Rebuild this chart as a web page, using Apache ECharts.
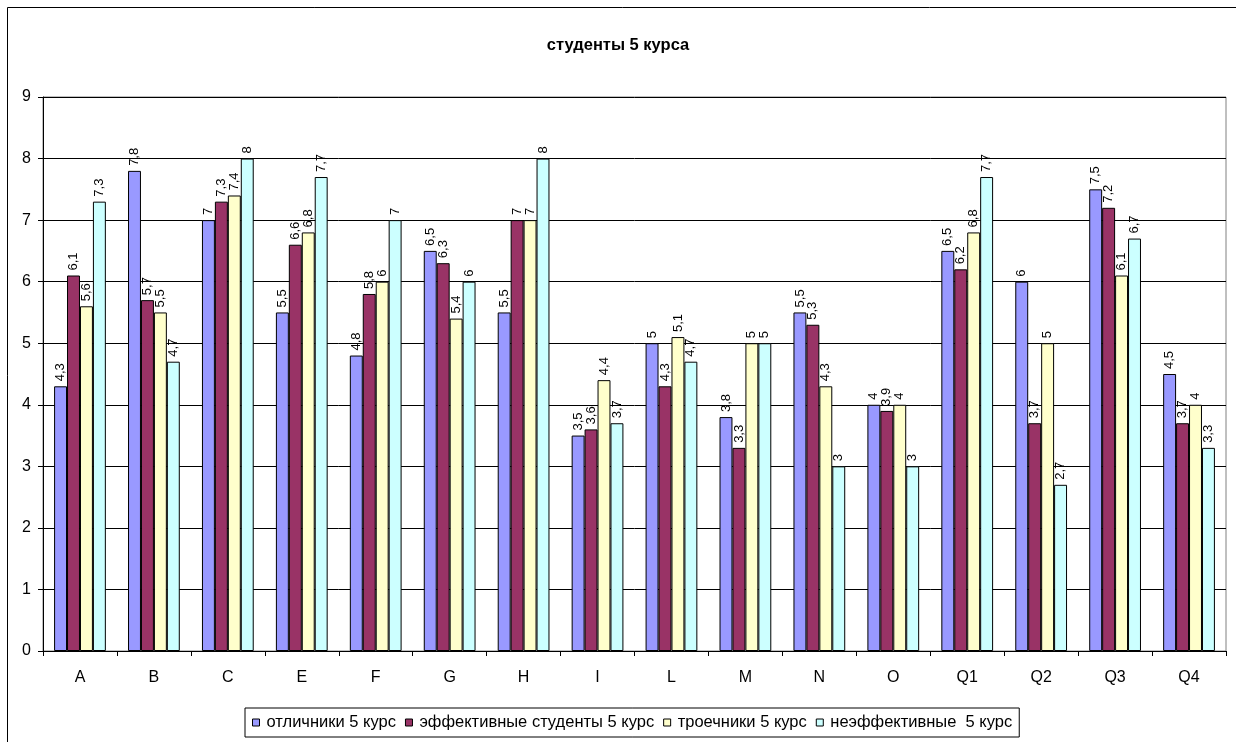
<!DOCTYPE html>
<html><head><meta charset="utf-8">
<script src="https://cdn.jsdelivr.net/npm/echarts@6/dist/echarts.min.js"></script>
<style>html,body{margin:0;padding:0;background:#fff;}#c{width:1236px;height:742px;}</style>
</head><body><div id="c"></div>
<script>
const categories = ['A','B','C','E','F','G','H','I','L','M','N','O','Q1','Q2','Q3','Q4'];
const seriesNames = ['отличники 5 курс','эффективные студенты 5 курс','троечники 5 курс','неэффективные  5 курс'];
const excellent = [4.3,7.8,7,5.5,4.8,6.5,5.5,3.5,5,3.8,5.5,4,6.5,6,7.5,4.5];
const effective = [6.1,5.7,7.3,6.6,5.8,6.3,7,3.6,4.3,3.3,5.3,3.9,6.2,3.7,7.2,3.7];
const cStudents = [5.6,5.5,7.4,6.8,6,5.4,7,4.4,5.1,5,4.3,4,6.8,5,6.1,4];
const ineffective = [7.3,4.7,8,7.7,7,6,8,3.7,4.7,5,3,3,7.7,2.7,6.7,3.3];
const yTicks = [0,1,2,3,4,5,6,7,8,9];
const colors = ['#9999FF','#993366','#FFFFCC','#CCFFFF'];
const values = [excellent, effective, cStudents, ineffective];
const font = 'Liberation Sans, Arial, sans-serif';
const chart = echarts.init(document.getElementById('c'));
chart.setOption({
  animation:false,
  textStyle:{fontFamily:font},
  title:{text:'студенты 5 курса',left:'center',top:32,textStyle:{fontSize:16.5,fontWeight:'bold',color:'#000',fontFamily:font}},
  graphic:[{type:'rect',shape:{x:7.5,y:7.5,width:1240,height:750},style:{fill:'none',stroke:'#000',lineWidth:1},silent:true,z:-1}],
  legend:{bottom:5,left:245,itemWidth:7,itemHeight:7,itemGap:9,padding:[6,7,6,7],borderColor:'#000',borderWidth:1,
    icon:'rect',textStyle:{fontSize:16.5,color:'#000',fontFamily:font,padding:[0,0,0,2]},
    itemStyle:{borderColor:'#000',borderWidth:1},data:seriesNames},
  grid:{left:43,right:10,top:97,bottom:91,show:true,borderColor:'#808080',borderWidth:1,containLabel:false},
  xAxis:{type:'category',data:categories,boundaryGap:true,
    axisLine:{lineStyle:{color:'#000',width:1}},axisTick:{show:true,length:5,lineStyle:{color:'#000'}},
    axisLabel:{fontSize:16,color:'#000',margin:19,fontFamily:font}},
  yAxis:{type:'value',min:0,max:9,interval:1,
    axisLine:{show:true,lineStyle:{color:'#000'}},axisTick:{show:true,length:5,lineStyle:{color:'#000'}},
    axisLabel:{fontSize:16,color:'#000',margin:12,fontFamily:font,formatter:v=>yTicks.includes(v)?String(v):''},
    splitLine:{lineStyle:{color:'#000',width:1}}},
  series: values.map((d,i)=>({
    name:seriesNames[i],type:'bar',data:d,barGap:'0%',barCategoryGap:'30%',
    itemStyle:{color:colors[i],borderColor:'#000',borderWidth:1},
    label:{show:true,position:'top',rotate:90,align:'left',verticalAlign:'middle',distance:5,
      fontSize:13,color:'#000',fontFamily:font,formatter:p=>String(p.value).replace('.',',')}
  }))
});
</script></body></html>
